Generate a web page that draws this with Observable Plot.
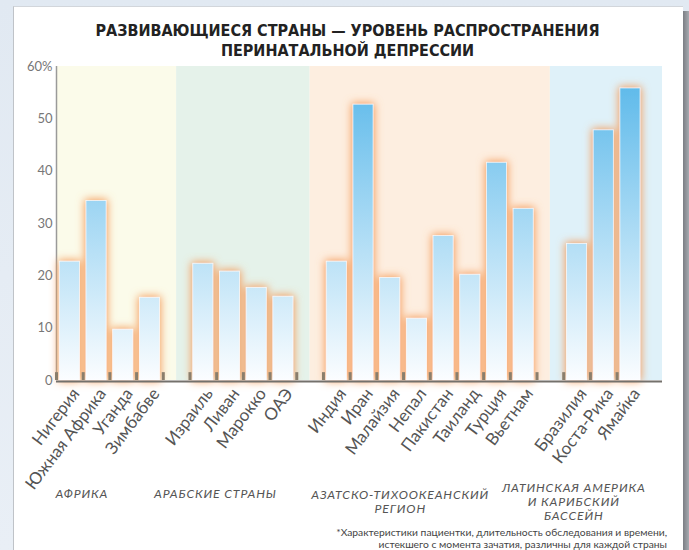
<!DOCTYPE html>
<html><head><meta charset="utf-8">
<script src="https://cdn.jsdelivr.net/npm/d3@7"></script>
<script src="https://cdn.jsdelivr.net/npm/@observablehq/plot@0.6"></script>
<style>
html,body{margin:0;padding:0;width:689px;height:550px;overflow:hidden;background:linear-gradient(#e1e9f2,#e9eff6);}
#card{position:absolute;left:13px;top:6px;width:669px;height:560px;background:#fff;border-left:1px solid #bfc3c8;border-top:1px solid #d2d6db;}
#edge{position:absolute;left:683px;top:11px;width:6px;height:560px;background:linear-gradient(90deg,#7b7e84,#a7abb1);}
#title{position:absolute;left:13px;width:669px;top:21px;text-align:center;font-family:"Liberation Sans Narrow","DejaVu Sans Condensed",sans-serif;font-weight:bold;font-size:16px;line-height:20px;color:#222;}
#chart{position:absolute;left:0;top:60px;}
#note{position:absolute;right:22px;top:526px;text-align:right;font-family:Lato,sans-serif;font-size:10.3px;line-height:12px;color:#444;}
</style></head>
<body>
<div id="card"></div>
<div id="edge"></div>
<div id="title">РАЗВИВАЮЩИЕСЯ СТРАНЫ — УРОВЕНЬ РАСПРОСТРАНЕНИЯ<br>ПЕРИНАТАЛЬНОЙ ДЕПРЕССИИ</div>
<div id="chart"></div>
<div id="note">*Характеристики пациентки, длительность обследования и времени,<br>истекшего с момента зачатия, различны для каждой страны</div>
<script>
// ---- data ----
const groups = ["АФРИКА", "АРАБСКИЕ СТРАНЫ", "АЗАТСКО-ТИХООКЕАНСКИЙ\nРЕГИОН", "ЛАТИНСКАЯ АМЕРИКА\nИ КАРИБСКИЙ\nБАССЕЙН"];
const countries = ["Нигерия", "Южная Африка", "Уганда", "Зимбабве",
  "Израиль", "Ливан", "Марокко", "ОАЭ",
  "Индия", "Иран", "Малайзия", "Непал", "Пакистан", "Таиланд", "Турция", "Вьетнам",
  "Бразилия", "Коста-Рика", "Ямайка"];
const countryGroup = [0,0,0,0, 1,1,1,1, 2,2,2,2,2,2,2,2, 3,3,3];
const values = [22.7, 34.3, 9.7, 15.8,
  22.3, 20.8, 17.7, 16.0,
  22.7, 52.7, 19.6, 11.8, 27.6, 20.2, 41.6, 32.8,
  26.1, 47.8, 55.8];
const yTicks = [0, 10, 20, 30, 40, 50, 60];
const yTickLabels = ["0", "10", "20", "30", "40", "50", "60%"];

// ---- styles ----
const bandColors = ["#fbfbea", "#e5f2ea", "#fdeee0", "#dff1f9"];

// ---- layout (one empty slot between groups) ----
const rows = countries.map((name, i) => ({name, value: values[i], group: countryGroup[i], slot: i + countryGroup[i]}));
const lastSlot = d3.max(rows, d => d.slot);
const xMax = lastSlot + 1.7;
const bands = groups.map((g, gi) => {
  const s = rows.filter(d => d.group === gi);
  const first = d3.min(s, d => d.slot), last = d3.max(s, d => d.slot);
  return {label: g, gi, x1: gi === 0 ? 0 : first - 0.5, x2: gi === groups.length - 1 ? xMax : last + 1.5, mid: (first + last + 1) / 2, lines: g.split("\n").length};
});
const boundaries = d3.range(0, lastSlot + 1);

const plot = Plot.plot({
  width: 689, height: 462,
  marginLeft: 56, marginRight: 27, marginTop: 6, marginBottom: 142,
  style: {background: "transparent", fontFamily: "Lato, sans-serif", overflow: "visible"},
  x: {domain: [0, xMax], axis: null},
  y: {domain: [0, 60], axis: null},
  marks: [
    Plot.rect(bands, {x1: "x1", x2: "x2", y1: 0, y2: 60, fill: d => bandColors[d.gi]}),
    Plot.ruleX([0], {stroke: "#9a9a9a", strokeWidth: 1.5}),
    Plot.rect(rows, {x1: d => d.slot, x2: d => d.slot + 1, y1: 0, y2: "value", insetLeft: 3.3, insetRight: 3.3, fill: "#9cd", className: "bars"}),
    Plot.ruleY([0], {stroke: "#74716c", strokeWidth: 2.2, dy: 1}),
    Plot.ruleX(boundaries, {x: d => d, y1: 0, y2: 1.5, stroke: "#8a7e6c", strokeWidth: 3}),
    Plot.axisY(yTicks, {label: null, tickSize: 0, tickPadding: 4, tickFormat: (d) => yTickLabels[yTicks.indexOf(d)], fontSize: 13, fill: "#777", color: "#777"}),
    Plot.text(rows, {x: d => d.slot + 0.5, text: "name", frameAnchor: "bottom", lineAnchor: "middle", rotate: -53, textAnchor: "end", dx: 6, dy: 10, fontSize: 17, fill: "#555"}),
    Plot.text(bands.filter(d => d.lines === 1), {x: "mid", text: "label", frameAnchor: "bottom", lineAnchor: "middle", dx: -28, dy: 114, fontSize: 12.3, fontStyle: "italic", fill: "#555", className: "glabels"}),
    Plot.text(bands.filter(d => d.lines > 1), {x: "mid", text: "label", frameAnchor: "bottom", lineAnchor: "middle", dx: -30, dy: 121, lineHeight: 1.16, fontSize: 12.3, fontStyle: "italic", fill: "#555", className: "glabels"})
  ]
});

const y = plot.scale("y");
const svg = d3.select(plot);
const defs = svg.insert("defs", ":first-child");
const grad = defs.append("linearGradient").attr("id", "barGrad").attr("gradientUnits", "userSpaceOnUse")
  .attr("x1", 0).attr("x2", 0).attr("y1", y.apply(0)).attr("y2", y.apply(60));
grad.append("stop").attr("offset", 0).attr("stop-color", "#fbfdff");
grad.append("stop").attr("offset", 1).attr("stop-color", "#55b6e9");
const f = defs.append("filter").attr("id", "glow").attr("x", "-60%").attr("y", "-20%").attr("width", "220%").attr("height", "140%");
f.append("feMorphology").attr("in", "SourceAlpha").attr("operator", "dilate").attr("radius", 1).attr("result", "d");
f.append("feGaussianBlur").attr("in", "d").attr("stdDeviation", 4).attr("result", "b");
f.append("feFlood").attr("flood-color", "#f59d5c").attr("result", "fl");
f.append("feComposite").attr("in", "fl").attr("in2", "b").attr("operator", "in").attr("result", "g");
const m = f.append("feMerge");
m.append("feMergeNode").attr("in", "g");
m.append("feMergeNode").attr("in", "SourceGraphic");
const barG = svg.select("g.bars");
barG.attr("filter", "url(#glow)");
barG.selectAll("rect").attr("fill", "url(#barGrad)").attr("stroke", "#ffffff").attr("stroke-width", 0.8).attr("stroke-opacity", 0.8);
svg.selectAll("g.glabels text").style("letter-spacing", "0.85px");
document.getElementById("chart").appendChild(plot);
</script>
</body></html>
